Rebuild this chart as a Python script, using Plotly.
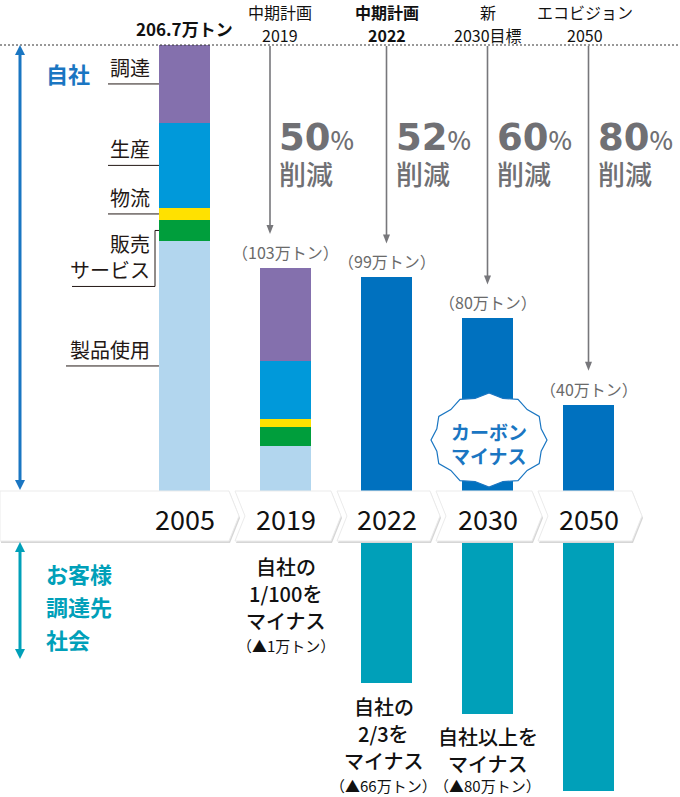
import math
import plotly.graph_objects as go

W, H = 680, 797
FONT = "Noto Sans CJK JP"

# ---------------- data (万トン) ----------------
years = ["2005", "2019", "2022", "2030", "2050"]
seg_labels = ["製品使用", "販売<br>サービス", "物流", "生産", "調達"]
seg_product_use = [115.9, 20.8, None, None, None]
seg_sales = [9.7, 8.7, None, None, None]
seg_logistics = [5.6, 3.9, None, None, None]
seg_production = [39.4, 26.9, None, None, None]
seg_procurement = [36.1, 43.1, None, None, None]
own_target = [None, None, 99, 80, 40]
contribution = [None, -1, -66, -80, -116]
totals = [206.7, 103.4, 99, 80, 40]

total_labels = ["<b>206.7万トン</b>", "（103万トン）", "（99万トン）", "（80万トン）", "（40万トン）"]
plan_labels = [None, ["中期計画", "2019"], ["<b>中期計画</b>", "<b>2022</b>"], ["新", "2030目標"],
               ["エコビジョン", "2050"]]
reduction_pct = [None, "50", "52", "60", "80"]
contribution_lines = [None, ["自社の", "1/100を", "マイナス"], ["自社の", "2/3を", "マイナス"],
                      ["自社以上を", "マイナス"], None]
contribution_amounts = [None, "（▲1万トン）", "（▲66万トン）", "（▲80万トン）", None]

seg_colors = ["#b2d6ee", "#009e3c", "#ffe100", "#0099da", "#8470ad"]
TARGET_COLOR = "#0071bf"
TEAL = "#00a0b9"
BLUE = "#1a76c2"
GRAY = "#707074"
ARROW_GRAY = "#77777b"

# ---------------- layout geometry ----------------
TOP_Y0, TOP_Y1 = 45, 491      # pixel extent of upper plot
BOT_Y0 = 541                  # pixel top of lower plot
YMAX = 206.7
S = (TOP_Y1 - TOP_Y0) / YMAX  # px per unit
X0, DX = 184.5, 101.0         # pixel of first category centre, spacing
BW = 0.505


def px(x):
    return x / W


def py(y):
    return 1 - y / H


def cat_px(i):
    return X0 + DX * i


def val_py(v):
    return TOP_Y1 - v * S


fig = go.Figure()
seg_series = [seg_product_use, seg_sales, seg_logistics, seg_production, seg_procurement]
for vals, col, name in zip(seg_series, seg_colors, seg_labels):
    fig.add_trace(go.Bar(x=years, y=vals, marker=dict(color=col, line=dict(width=0)),
                         width=BW, name=name, xaxis="x", yaxis="y", hoverinfo="skip"))
fig.add_trace(go.Bar(x=years, y=own_target, marker=dict(color=TARGET_COLOR, line=dict(width=0)),
                     width=BW, xaxis="x", yaxis="y", hoverinfo="skip"))
fig.add_trace(go.Bar(x=years, y=contribution, marker=dict(color=TEAL, line=dict(width=0)),
                     width=BW, xaxis="x2", yaxis="y2", hoverinfo="skip"))

shapes = []
ann = []


def text(x, y, t, size, color="#231815", xanchor="center", yanchor="middle", family=FONT,
         weight=None, align="center", xref="paper", yref="paper", yshift=0, xshift=0):
    f = dict(family=family, size=size, color=color)
    if weight:
        f["weight"] = weight
    ann.append(dict(x=x, y=y, xref=xref, yref=yref, text=t, showarrow=False, font=f,
                    xanchor=xanchor, yanchor=yanchor, align=align, yshift=yshift, xshift=xshift,
                    borderpad=0))


def tri(x, tip, base, hw, col):
    path = (f"M {px(x):.5f},{py(tip):.5f} L {px(x - hw):.5f},{py(base):.5f} "
            f"L {px(x + hw):.5f},{py(base):.5f} Z")
    shapes.append(dict(type="path", path=path, xref="paper", yref="paper",
                       fillcolor=col, line=dict(width=0)))


# ---------------- timeline chevrons ----------------
P = [239, 341, 440, 542, 642]
tb0, tb1 = 491, 541
mid = (tb0 + tb1) / 2
for i in range(5):
    rt = P[i] - 10
    lt = 0 if i == 0 else P[i - 1] - 4
    notch = 0 if i == 0 else 10

    def chev(dx, dy):
        pts = [(lt + dx, tb0 + dy), (rt + dx, tb0 + dy), (P[i] + dx, mid + dy), (rt + dx, tb1 + dy),
               (lt + dx, tb1 + dy), (lt + notch + dx, mid + dy)]
        return "M " + " L ".join(f"{px(a):.5f},{py(b):.5f}" for a, b in pts) + " Z"
    shapes.append(dict(type="path", path=chev(1, 2), xref="paper", yref="paper",
                       fillcolor="#d6d6d6", line=dict(width=0), layer="above"))
    shapes.append(dict(type="path", path=chev(0, 0), xref="paper", yref="paper",
                       fillcolor="white", line=dict(color="#ebebeb", width=1), layer="above"))

for i, yv in enumerate(years):
    text(px(cat_px(i)), py(518), yv, 27, color="#111")

# ---------------- dotted top line ----------------
shapes.append(dict(type="line", xref="paper", yref="paper", x0=0, x1=1, y0=py(45), y1=py(45),
                   line=dict(color="#333", width=1, dash="2px,2px")))


# ---------------- left arrows ----------------
def double_arrow(x, y0, y1, col, lw=3, head=10, hw=5):
    shapes.append(dict(type="line", xref="paper", yref="paper", x0=px(x), x1=px(x),
                       y0=py(y0 + head - 1), y1=py(y1 - head + 1), line=dict(color=col, width=lw)))
    tri(x, y0, y0 + head, hw, col)
    tri(x, y1, y1 - head, hw, col)


double_arrow(20, 45, 490, BLUE)
double_arrow(20, 542, 659, TEAL)
text(px(45), py(73), "<b>自社</b>", 22, color=BLUE, xanchor="left")
for k, t in enumerate(["お客様", "調達先", "社会"]):
    text(px(45), py(573 + 33 * k), f"<b>{t}</b>", 22, color=TEAL, xanchor="left")

# ---------------- 2005 segment labels with leader lines ----------------
bar_left = cat_px(0) - BW * DX / 2
cum = 0
mids = []
for v in [s[0] for s in seg_series]:
    mids.append(cum + v / 2)
    cum += v
line_starts = [66, 72, 108, 108, 108]
for j, (lab, m) in enumerate(zip(seg_labels, mids)):
    if j == 1:
        low = m - 56 / S
        shapes.append(dict(type="path", xref="paper", yref="y",
                           path=f"M {px(line_starts[j])},{low} L {px(155)},{low} L {px(155)},{m} L {px(bar_left)},{m}",
                           line=dict(color="#231815", width=1)))
        text(px(151), low, lab, 20, xanchor="right", yanchor="bottom", yref="y", align="right", yshift=1)
    else:
        shapes.append(dict(type="line", xref="paper", yref="y", x0=px(line_starts[j]), x1=px(bar_left),
                           y0=m, y1=m, line=dict(color="#231815", width=1)))
        text(px(151), m, lab, 20, xanchor="right", yanchor="bottom", yref="y", align="right", yshift=1)

# ---------------- totals, plan labels, arrows, reductions ----------------
arrow_dx = [0, -15.5, 0, 0, 0]
plan_dx = [0, -6, 0, 0, -4]
for i, yv in enumerate(years):
    cx = cat_px(i)
    text(px(cx), py(val_py(totals[i]) - 3), total_labels[i], 17 if i == 0 else 16,
         color="#111" if i == 0 else "#6a6a6a", yanchor="bottom")
    if plan_labels[i] is None:
        continue
    ax_x = cx + arrow_dx[i]
    for k, ln in enumerate(plan_labels[i]):
        text(px(cx + plan_dx[i]), py(12 + 23 * k), ln, 16, color="#111")
    tip = val_py(totals[i]) - 34
    shapes.append(dict(type="line", xref="paper", yref="paper", x0=px(ax_x), x1=px(ax_x),
                       y0=py(46), y1=py(tip - 7), line=dict(color=ARROW_GRAY, width=1.6)))
    tri(ax_x, tip, tip - 9, 3.5, ARROW_GRAY)
    pct = (f"<span style='font-family:DejaVu Sans;font-size:37px;font-weight:bold'>{reduction_pct[i]}</span>"
           f"<span style='font-size:25px'>%</span><br>削減")
    text(px(ax_x + 8), py(154), pct, 27, color=GRAY, xanchor="left", align="left", weight=500)

# ---------------- contribution labels (below) ----------------
for i, yv in enumerate(years):
    if contribution_lines[i] is None:
        continue
    bottom = BOT_Y0 + (-contribution[i]) * S
    cx = cat_px(i) + (-3 if i == 2 else 0)
    n = len(contribution_lines[i])
    for k, ln in enumerate(contribution_lines[i]):
        text(px(cx), py(bottom + 23 + 27 * k), ln, 20, color="#111", weight=500)
    text(px(cx), py(min(bottom + 21 + 27 * n, 785)), contribution_amounts[i], 15, color="#111")

# ---------------- carbon minus badge ----------------
bcx, bcy = cat_px(3) + 1.5, 440
n_pts = 12
pts = []
for k in range(2 * n_pts):
    a = math.pi * k / n_pts
    rx, ry = (58, 47) if k % 2 == 0 else (54, 43)
    pts.append((bcx + rx * math.cos(a), bcy - ry * math.sin(a)))
star = "M " + " L ".join(f"{px(a):.5f},{py(b):.5f}" for a, b in pts) + " Z"
shapes.append(dict(type="path", path=star, xref="paper", yref="paper", fillcolor="white",
                   line=dict(color=BLUE, width=1.2), layer="above"))
text(px(bcx), py(431), "<b>カーボン</b>", 19, color=BLUE)
text(px(bcx), py(455), "<b>マイナス</b>", 19, color=BLUE)

fig.update_layout(
    width=W, height=H, margin=dict(l=0, r=0, t=0, b=0),
    paper_bgcolor="white", plot_bgcolor="white", showlegend=False,
    barmode="stack", bargap=0,
    font=dict(family=FONT),
    xaxis=dict(domain=[0, 1], anchor="y", type="category", categoryorder="array",
               categoryarray=years, range=[-X0 / DX, (W - X0) / DX],
               showticklabels=False, showgrid=False, zeroline=False, showline=False, ticks=""),
    xaxis2=dict(domain=[0, 1], anchor="y2", matches="x", type="category",
                showticklabels=False, showgrid=False, zeroline=False, showline=False, ticks=""),
    yaxis=dict(domain=[py(TOP_Y1), py(TOP_Y0)], range=[0, YMAX], anchor="x",
               showticklabels=False, showgrid=False, zeroline=False, showline=False, ticks=""),
    yaxis2=dict(domain=[0, py(BOT_Y0)], range=[-(H - BOT_Y0) / S, 0], anchor="x2",
                showticklabels=False, showgrid=False, zeroline=False, showline=False, ticks=""),
    shapes=shapes, annotations=ann,
)

fig.write_html("out.html", config={"displayModeBar": False},
               post_script="document.body.style.margin='0';")
